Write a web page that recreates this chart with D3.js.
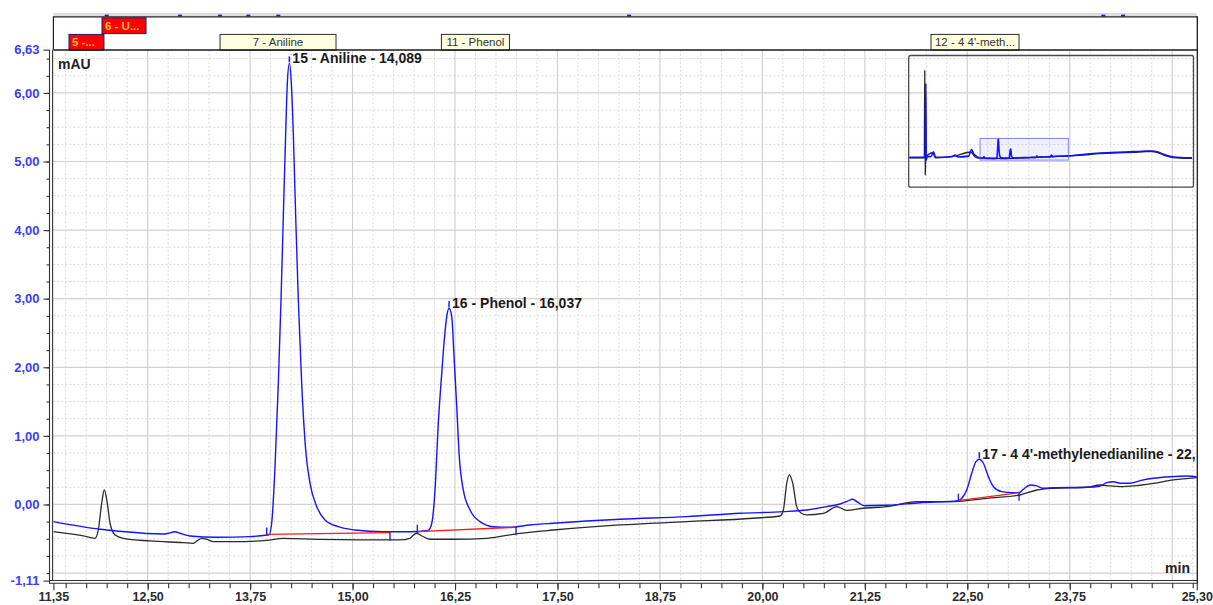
<!DOCTYPE html>
<html>
<head>
<meta charset="utf-8">
<script src="https://cdn.jsdelivr.net/npm/d3@7"></script>
<style>
  html, body { margin: 0; padding: 0; background: #fff; }
  svg { display: block; font-family: "Liberation Sans", Arial, sans-serif; }
</style>
</head>
<body>
<svg id="chart" width="1213" height="605"></svg>
<script>
// ---- view ranges and tick labels ----
const timeDomain = [11.35, 25.30];
const signalDomain = [-1.11, 6.63];
const xTickLabels = [11.35, 12.50, 13.75, 15.00, 16.25, 17.50, 18.75, 20.00, 21.25, 22.50, 23.75, 25.30];
const yTickLabels = [-1.11, 0, 1, 2, 3, 4, 5, 6, 6.63];

// ---- UV trace of the sample run (min, mAU), recorded on its own time base ----
const blueOffset = 0.14; // overlay shift of the sample run on the time axis
const blueTrace = [
  [11.210,-0.251],[11.779,-0.362],[11.982,-0.386],[12.551,-0.430],[12.612,-0.420],[12.694,-0.397],
  [12.755,-0.420],[12.877,-0.459],[13.202,-0.478],[13.609,-0.469],[13.792,-0.449],[13.841,-0.442],
  [13.873,-0.274],[13.914,0.551],[13.954,1.767],[13.987,2.981],[14.015,4.195],[14.044,5.411],
  [14.064,6.140],[14.089,6.431],[14.113,6.140],[14.137,5.411],[14.166,4.195],[14.198,2.981],
  [14.239,1.767],[14.288,0.794],[14.341,0.309],[14.423,-0.032],[14.524,-0.226],[14.686,-0.324],
  [14.890,-0.372],[15.235,-0.397],[15.561,-0.397],[15.784,-0.379],[15.826,-0.274],[15.866,0.211],
  [15.906,1.184],[15.948,1.913],[15.979,2.398],[16.009,2.738],[16.037,2.860],[16.070,2.738],
  [16.098,2.155],[16.131,1.426],[16.162,0.697],[16.211,0.211],[16.293,-0.080],[16.415,-0.251],
  [16.577,-0.324],[16.781,-0.332],[17.025,-0.299],[17.309,-0.274],[18.123,-0.216],[18.937,-0.178],
  [19.587,-0.128],[20.116,-0.105],[20.401,-0.080],[20.645,-0.032],[20.807,0.007],[20.893,0.044],
  [20.960,0.077],[21.027,0.029],[21.100,-0.019],[21.377,-0.012],[21.783,0.026],[22.251,0.055],
  [22.296,0.095],[22.353,0.211],[22.414,0.455],[22.466,0.624],[22.507,0.659],[22.556,0.601],
  [22.617,0.405],[22.678,0.259],[22.780,0.187],[22.902,0.172],[22.991,0.172],[23.044,0.222],
  [23.126,0.284],[23.208,0.270],[23.288,0.236],[23.410,0.245],[23.818,0.251],[23.980,0.270],
  [24.062,0.318],[24.143,0.332],[24.224,0.309],[24.346,0.309],[24.468,0.347],[24.630,0.382],
  [24.833,0.405],[25.037,0.415],[25.160,0.405]
];

// ---- UV trace of the reference run (min, mAU) ----
const blackTrace = [
  [11.350,-0.397],[11.715,-0.459],[11.858,-0.493],[11.898,-0.372],[11.939,0.017],[11.971,0.211],
  [12.008,0.017],[12.041,-0.274],[12.102,-0.445],[12.203,-0.493],[12.529,-0.532],[12.935,-0.557],
  [13.057,-0.566],[13.108,-0.525],[13.159,-0.493],[13.220,-0.507],[13.301,-0.542],[13.545,-0.542],
  [13.952,-0.525],[14.155,-0.493],[14.603,-0.510],[15.091,-0.517],[15.579,-0.517],[15.701,-0.493],
  [15.744,-0.445],[15.783,-0.420],[15.835,-0.452],[15.945,-0.507],[16.229,-0.507],[16.637,-0.493],
  [17.043,-0.420],[17.449,-0.372],[18.263,-0.299],[19.077,-0.251],[19.889,-0.201],[20.215,-0.168],
  [20.256,-0.080],[20.297,0.309],[20.329,0.430],[20.370,0.309],[20.419,-0.032],[20.471,-0.124],
  [20.541,-0.153],[20.744,-0.131],[20.907,-0.032],[21.029,-0.087],[21.232,-0.055],[21.517,-0.032],
  [21.883,0.041],[22.330,0.041],[22.737,0.090],[23.143,0.138],[23.347,0.211],[23.550,0.236],
  [23.958,0.251],[24.120,0.284],[24.242,0.270],[24.364,0.259],[24.527,0.270],[24.770,0.309],
  [25.014,0.357],[25.300,0.391]
];

// ---- full-run overview pieces outside the zoomed window ----
const overviewBlueBefore = [
  [0.03,-0.14],[2.45,-0.10],[2.55,2.0],[2.65,26.3],[2.72,-1.1],[2.85,0.1],[3.50,0.2],[3.83,1.86],
  [4.20,-0.1],[6.80,0.1],[7.25,0.68],[7.75,0.0],[9.40,0.3],[9.89,2.7],[10.20,1.2],[10.41,0.68],[10.93,-0.14]
];
const overviewBlueAfter = [
  [27.0,0.8],[30.2,1.4],[33.0,1.7],[35.5,1.9],[37.4,2.1],[38.4,2.15],[39.2,1.9],[40.2,1.0],
  [41.2,0.3],[42.3,-0.1],[44.7,-0.3],[44.86,-0.25]
];
const overviewBlackBefore = [
  [0.17,-0.3],[2.55,-0.3],[2.62,31.0],[2.69,-6.5],[2.76,-0.2],[3.90,1.5],[4.30,-0.3],[7.40,0.4],
  [9.90,1.8],[10.60,0.0],[11.20,-0.4]
];
const overviewBlackAfter = [
  [27.0,0.6],[30.3,1.2],[33.1,1.5],[35.6,1.7],[37.5,1.9],[38.5,1.95],[39.3,1.7],[40.3,0.8],
  [41.3,0.1],[42.4,-0.3],[44.8,-0.5],[45.0,-0.45]
];
const overviewRange = [0, 45];

// ---- integrated peaks of the sample run ----
const peakNames = ["15 - Aniline", "16 - Phenol", "17 - 4 4'-methylenedianiline"];
const peakRetention = [14.089, 16.037, 22.507];
const peakHeight = [6.431, 2.860, 0.659];
const peakStartTime = [13.812, 15.650, 22.251];
const peakStartLevel = [-0.437, -0.397, 0.055];
const peakEndTime = [15.317, 16.854, 22.991];
const peakEndLevel = [-0.411, -0.332, 0.172];

// ---- expected retention windows shown above the plot ----
const windowLabels = ["5 -...", "6 - U...", "7 - Aniline", "11 - Phenol", "12 - 4 4'-meth..."];
const windowStart = [11.540, 11.943, 13.383, 16.084, 22.057];
const windowEnd = [11.967, 12.480, 14.798, 16.914, 23.131];
const windowRow = [1, 0, 1, 1, 1];
const windowMissing = [true, true, false, false, false];

// ---- peak marks from the upper channel ----
const topMarkTimes = [12.00, 12.895, 13.383, 13.728, 14.094, 18.373, 24.16, 24.40];

// ================= drawing =================
const svg = d3.select("#chart");
const plot = { left: 53.4, right: 1196.8, top: 49.7, bottom: 580.6 };
const band = { top: 17.3, row: 16.6 };
const inset = { left: 908.2, right: 1193, top: 55, bottom: 186.7 };

const x = d3.scaleLinear().domain(timeDomain).range([plot.left, plot.right]);
const y = d3.scaleLinear().domain(signalDomain).range([plot.bottom, plot.top]);

const locale = d3.formatLocale({ decimal: ",", thousands: ".", grouping: [3], currency: ["", ""], minus: "-" });
const fmt2 = locale.format(".2f");
const fmt3 = locale.format(".3f");

const defs = svg.append("defs");
defs.append("clipPath").attr("id", "plotClip").append("rect")
  .attr("x", plot.left).attr("y", plot.top)
  .attr("width", plot.right - plot.left).attr("height", plot.bottom - plot.top);
defs.append("clipPath").attr("id", "labelClip").append("rect")
  .attr("x", plot.left).attr("y", 0)
  .attr("width", plot.right - plot.left - 0.5).attr("height", plot.bottom);
defs.append("clipPath").attr("id", "insetClip").append("rect")
  .attr("x", inset.left + 1).attr("y", inset.top + 1)
  .attr("width", inset.right - inset.left - 2).attr("height", inset.bottom - inset.top - 2);

// ---- grid ----
const grid = svg.append("g");
const minorT = d3.range(46, 102).map(i => i * 0.25).filter(t => Math.abs(t / 1.25 - Math.round(t / 1.25)) > 1e-6);
const majorT = d3.range(10, 21).map(i => i * 1.25);
const minorV = d3.range(-4, 27).map(i => i * 0.25).filter(v => Math.abs(v - Math.round(v)) > 1e-6);
const majorV = d3.range(-1, 7);

grid.selectAll(".vminor").data(minorT).join("line")
  .attr("x1", d => x(d)).attr("x2", d => x(d)).attr("y1", plot.top).attr("y2", plot.bottom)
  .attr("stroke", "#d9d9d9").attr("stroke-width", 1).attr("stroke-dasharray", "2,2");
grid.selectAll(".hminor").data(minorV).join("line")
  .attr("x1", plot.left).attr("x2", plot.right).attr("y1", d => y(d)).attr("y2", d => y(d))
  .attr("stroke", "#d9d9d9").attr("stroke-width", 1).attr("stroke-dasharray", "2,2");
grid.selectAll(".vmajor").data(majorT).join("line")
  .attr("x1", d => x(d)).attr("x2", d => x(d)).attr("y1", plot.top).attr("y2", plot.bottom)
  .attr("stroke", "#d2d2d2").attr("stroke-width", 1.2);
grid.selectAll(".hmajor").data(majorV).join("line")
  .attr("x1", plot.left).attr("x2", plot.right).attr("y1", d => y(d)).attr("y2", d => y(d))
  .attr("stroke", "#d2d2d2").attr("stroke-width", 1.2);

// ---- header band with retention windows ----
svg.append("rect").attr("x", plot.left).attr("y", 13).attr("width", plot.right - plot.left).attr("height", 3.4)
  .attr("fill", "#dedee2");
svg.selectAll(".topmark").data(topMarkTimes).join("rect")
  .attr("x", d => x(d) - 2).attr("y", 14.6).attr("width", 4).attr("height", 1.8).attr("fill", "#1a1aff");
svg.append("line").attr("x1", plot.left).attr("x2", plot.right + 0.5).attr("y1", band.top - 0.5).attr("y2", band.top - 0.5)
  .attr("stroke", "#222").attr("stroke-width", 1.2);
svg.append("line").attr("x1", plot.left).attr("x2", plot.left).attr("y1", band.top - 1).attr("y2", plot.top)
  .attr("stroke", "#222").attr("stroke-width", 1.2);

const win = svg.append("g");
windowLabels.forEach((label, i) => {
  const x0 = x(windowStart[i]), x1 = x(windowEnd[i]);
  const y0 = band.top + windowRow[i] * band.row;
  win.append("rect").attr("x", x0).attr("y", y0 + 0.5).attr("width", x1 - x0).attr("height", band.row - 0.8)
    .attr("fill", windowMissing[i] ? "#ff0000" : "#ffffe0")
    .attr("stroke", windowMissing[i] ? "#1c1c7a" : "#2a2a2a").attr("stroke-width", 1);
  win.append("text").attr("x", windowMissing[i] ? x0 + 3 : (x0 + x1) / 2).attr("y", y0 + 12.3)
    .attr("text-anchor", windowMissing[i] ? "start" : "middle")
    .attr("font-size", 11.5)
    .attr("fill", windowMissing[i] ? "#ffc020" : "#333")
    .attr("font-weight", windowMissing[i] ? "bold" : "normal")
    .text(label);
});

// ---- overview inset ----
const xi = d3.scaleLinear().domain(overviewRange).range([inset.left, inset.right]);
const yi = d3.scaleLinear().domain([-10.6, 36.4]).range([inset.bottom, inset.top]);
const insetG = svg.append("g");
insetG.append("rect").attr("x", inset.left + 0.5).attr("y", inset.top + 0.5)
  .attr("width", inset.right - inset.left).attr("height", inset.bottom - inset.top)
  .attr("rx", 2).attr("fill", "none").attr("stroke", "#4a4a4a").attr("stroke-width", 1.3);
const insetLines = insetG.append("g").attr("clip-path", "url(#insetClip)");
const lineBlackInset = d3.line().x(d => xi(d[0])).y(d => yi(d[1])).curve(d3.curveMonotoneX);
const lineBlueInset = d3.line().x(d => xi(d[0] + blueOffset)).y(d => yi(d[1])).curve(d3.curveMonotoneX);
insetLines.append("path").datum(overviewBlackBefore.concat(blackTrace, overviewBlackAfter))
  .attr("d", lineBlackInset).attr("fill", "none").attr("stroke", "#222").attr("stroke-width", 1.4);
insetLines.append("path").datum(overviewBlueBefore.concat(blueTrace, overviewBlueAfter))
  .attr("d", lineBlueInset).attr("fill", "none").attr("stroke", "#1010ff").attr("stroke-width", 1.6);
insetLines.append("rect")
  .attr("x", xi(timeDomain[0])).attr("y", yi(signalDomain[1]))
  .attr("width", xi(timeDomain[1]) - xi(timeDomain[0])).attr("height", yi(signalDomain[0]) - yi(signalDomain[1]))
  .attr("fill", "rgba(70,70,255,0.08)").attr("stroke", "rgba(90,90,255,0.75)").attr("stroke-width", 1);

// ---- traces ----
const traces = svg.append("g").attr("clip-path", "url(#plotClip)");
const lineBlack = d3.line().x(d => x(d[0])).y(d => y(d[1])).curve(d3.curveMonotoneX);
const lineBlue = d3.line().x(d => x(d[0] + blueOffset)).y(d => y(d[1])).curve(d3.curveMonotoneX);
traces.append("path").datum(blackTrace).attr("d", lineBlack)
  .attr("fill", "none").attr("stroke", "#2b2b2b").attr("stroke-width", 1.3);
traces.append("path").datum(blueTrace).attr("d", lineBlue)
  .attr("fill", "none").attr("stroke", "#1414ff").attr("stroke-width", 1.4);

// integration baselines and delimiters
peakNames.forEach((name, i) => {
  const xs = x(peakStartTime[i] + blueOffset), xe = x(peakEndTime[i] + blueOffset);
  const ys = y(peakStartLevel[i]), ye = y(peakEndLevel[i]);
  traces.append("line").attr("x1", xs).attr("y1", ys).attr("x2", xe).attr("y2", ye)
    .attr("stroke", "#ff1a1a").attr("stroke-width", 1.3);
  traces.append("line").attr("x1", xs).attr("x2", xs).attr("y1", ys - 7).attr("y2", ys + 1)
    .attr("stroke", "#1414ff").attr("stroke-width", 1.3);
  traces.append("line").attr("x1", xe).attr("x2", xe).attr("y1", ye - 1).attr("y2", ye + 8)
    .attr("stroke", "#1414ff").attr("stroke-width", 1.3);
});

// peak apex marks and labels (the last one runs past the right edge and is clipped there)
const labels = svg.append("g").attr("clip-path", "url(#labelClip)");
peakNames.forEach((name, i) => {
  const xp = x(peakRetention[i] + blueOffset), yp = y(peakHeight[i]);
  labels.append("line").attr("x1", xp).attr("x2", xp).attr("y1", yp - 7).attr("y2", yp - 1)
    .attr("stroke", "#1414ff").attr("stroke-width", 1.5);
  labels.append("text").attr("x", xp + 3).attr("y", yp - 0.5)
    .attr("font-size", 14).attr("font-weight", "bold").attr("fill", "#1a1a1a")
    .text(name + " - " + fmt3(peakRetention[i]));
});

// ---- frame and axes ----
svg.append("line").attr("x1", plot.left).attr("x2", plot.right + 0.5).attr("y1", plot.top + 0.3).attr("y2", plot.top + 0.3)
  .attr("stroke", "#1a1a1a").attr("stroke-width", 1.3);
svg.append("line").attr("x1", plot.right + 0.5).attr("x2", plot.right + 0.5).attr("y1", band.top - 1).attr("y2", 583.5)
  .attr("stroke", "#1a1a1a").attr("stroke-width", 1.3);
// double axis lines
svg.append("line").attr("x1", 49.5).attr("x2", 49.5).attr("y1", plot.top).attr("y2", 583.5)
  .attr("stroke", "#333").attr("stroke-width", 1.1);
svg.append("line").attr("x1", 52.6).attr("x2", 52.6).attr("y1", plot.top).attr("y2", 580.5)
  .attr("stroke", "#333").attr("stroke-width", 1.1);
svg.append("line").attr("x1", 49).attr("x2", plot.right + 1).attr("y1", 580.5).attr("y2", 580.5)
  .attr("stroke", "#333").attr("stroke-width", 1.1);
svg.append("line").attr("x1", 49).attr("x2", plot.right + 1).attr("y1", 583.3).attr("y2", 583.3)
  .attr("stroke", "#333").attr("stroke-width", 1.1);

const axisY0 = 583.3;
const minorAxisT = d3.range(46, 102).map(i => i * 0.25);
const xMinor = svg.append("g").attr("transform", `translate(0,${axisY0})`)
  .call(d3.axisBottom(x).tickValues(minorAxisT).tickSize(5).tickFormat(""));
const xMajor = svg.append("g").attr("transform", `translate(0,${axisY0})`)
  .call(d3.axisBottom(x).tickValues(xTickLabels).tickSize(7).tickPadding(2).tickFormat(fmt2));
[xMinor, xMajor].forEach(g => {
  g.select(".domain").remove();
  g.selectAll(".tick line").attr("stroke", "#333").attr("stroke-width", 1.1);
});
xMajor.selectAll(".tick text").attr("font-size", 12.5).attr("font-weight", "bold").attr("fill", "#2a2a2a")
  .attr("font-family", "Liberation Sans, Arial, sans-serif");

const axisX0 = 49.5;
const minorAxisV = d3.range(-4, 27).map(i => i * 0.25);
const yMinor = svg.append("g").attr("transform", `translate(${axisX0},0)`)
  .call(d3.axisLeft(y).tickValues(minorAxisV).tickSize(3).tickFormat(""));
const yMajor = svg.append("g").attr("transform", `translate(${axisX0},0)`)
  .call(d3.axisLeft(y).tickValues(yTickLabels).tickSize(6).tickPadding(4).tickFormat(fmt2));
[yMinor, yMajor].forEach(g => {
  g.select(".domain").remove();
  g.selectAll(".tick line").attr("stroke", "#333").attr("stroke-width", 1.1);
});
yMajor.selectAll(".tick text").attr("font-size", 13).attr("font-weight", "bold").attr("fill", "#3c3cff")
  .attr("font-family", "Liberation Sans, Arial, sans-serif");

// unit captions
svg.append("text").attr("x", 58).attr("y", 68.5).attr("font-size", 14).attr("font-weight", "bold")
  .attr("fill", "#222").text("mAU");
svg.append("text").attr("x", 1190).attr("y", 573).attr("text-anchor", "end").attr("font-size", 14)
  .attr("font-weight", "bold").attr("fill", "#222").text("min");
</script>
</body>
</html>
